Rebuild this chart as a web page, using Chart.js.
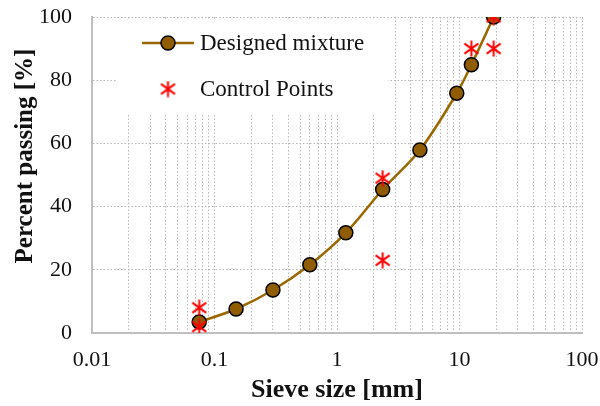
<!DOCTYPE html>
<html>
<head>
<meta charset="utf-8">
<script src="https://cdn.jsdelivr.net/npm/chart.js@4.4.0/dist/chart.umd.min.js"></script>
<style>
  html, body { margin: 0; padding: 0; background: #fff; }
  #wrap { width: 600px; height: 406px; }
</style>
</head>
<body>
<div id="wrap"><canvas id="chart"></canvas></div>
<script>
// sieve sizes [mm] and percent passing of the designed mixture
const sieveSizes = [0.075, 0.15, 0.3, 0.6, 1.18, 2.36, 4.75, 9.5, 12.5, 19];
const passing = [3.5, 7.6, 13.6, 21.6, 31.7, 45.4, 57.9, 75.9, 84.9, 100];

// control points (gradation limits)
const controlSizes = [0.075, 0.075, 2.36, 2.36, 12.5, 19, 19];
const controlPassing = [2, 8, 23, 49, 90, 90, 100];

const xTickLabels = ['0.01', '0.1', '1', '10', '100'];
const yTicks = [0, 20, 40, 60, 80, 100];

const seriesNames = ['Designed mixture', 'Control Points'];

const BROWN = '#9a6700';
const BROWN_FILL = '#8f5d00';
const RED = '#ff0000';
const GRID = '#b8b8b8';
const FONT = "'Liberation Serif', 'Times New Roman', serif";

// asterisk marker
function makeStar(size) {
  const c = document.createElement('canvas');
  c.width = size; c.height = size;
  const g = c.getContext('2d');
  g.strokeStyle = RED;
  g.lineWidth = 2;
  const m = size / 2;
  g.beginPath();
  g.moveTo(m, 0.5); g.lineTo(m, size - 0.5);
  g.moveTo(1.5, size * 0.2); g.lineTo(size - 1.5, size * 0.8);
  g.moveTo(1.5, size * 0.8); g.lineTo(size - 1.5, size * 0.2);
  g.stroke();
  return c;
}
const star = makeStar(17);

// legend box inside the plot + y title
const legendBox = {
  id: 'legendBox',
  beforeDatasetsDraw(chart) {
    const { ctx, chartArea } = chart;
    const left = chartArea.left + 25;
    const top = chartArea.top + 2;
    ctx.save();
    ctx.fillStyle = '#fff';
    ctx.fillRect(left, top, 271, 94);

    const mx = left + 51;
    const y1 = top + 24;
    const y2 = top + 70;
    ctx.strokeStyle = BROWN;
    ctx.lineWidth = 2.5;
    ctx.beginPath();
    ctx.moveTo(mx - 26, y1); ctx.lineTo(mx + 26, y1);
    ctx.stroke();
    ctx.beginPath();
    ctx.arc(mx, y1, 7, 0, Math.PI * 2);
    ctx.fillStyle = BROWN_FILL;
    ctx.fill();
    ctx.lineWidth = 1.5;
    ctx.strokeStyle = '#000';
    ctx.stroke();
    ctx.drawImage(star, mx - 8.5, y2 - 8.5);

    ctx.fillStyle = '#111';
    ctx.font = '23px ' + FONT;
    ctx.textBaseline = 'middle';
    ctx.fillText(seriesNames[0], left + 83, y1 + 1);
    ctx.fillText(seriesNames[1], left + 83, y2 + 1);
    ctx.restore();
  },
  afterDraw(chart) {
    const { ctx } = chart;
    ctx.save();
    ctx.translate(26, 156);
    ctx.rotate(-Math.PI / 2);
    ctx.font = 'bold 25px ' + FONT;
    ctx.fillStyle = '#111';
    ctx.textAlign = 'center';
    ctx.textBaseline = 'middle';
    ctx.fillText('Percent passing [%]', 0, 0);
    ctx.restore();
  }
};

const minorTicks = [];
for (let k = -2; k < 2; k++) {
  for (let m = 1; m < 10; m++) minorTicks.push(m * Math.pow(10, k));
}
minorTicks.push(100);

new Chart(document.getElementById('chart'), {
  type: 'line',
  data: {
    datasets: [
      {
        label: seriesNames[1],
        data: controlSizes.map((s, i) => ({ x: s, y: controlPassing[i] })),
        showLine: false,
        pointStyle: star,
        order: 1
      },
      {
        label: seriesNames[0],
        data: sieveSizes.map((s, i) => ({ x: s, y: passing[i] })),
        borderColor: BROWN,
        borderWidth: 2.5,
        backgroundColor: BROWN_FILL,
        pointBackgroundColor: BROWN_FILL,
        pointBorderColor: '#000',
        pointBorderWidth: 1.5,
        pointRadius: 7,
        tension: 0.35,
        order: 2
      }
    ]
  },
  options: {
    responsive: true,
    maintainAspectRatio: false,
    animation: false,
    layout: { padding: { top: 17, right: 18, left: 0, bottom: 0 } },
    plugins: {
      legend: { display: false },
      tooltip: { enabled: false }
    },
    scales: {
      x: {
        type: 'logarithmic',
        min: 0.01,
        max: 100,
        afterBuildTicks(scale) {
          scale.ticks = minorTicks.map(v => ({ value: v }));
        },
        afterFit(scale) { scale.height = 73; },
        ticks: {
          autoSkip: false,
          maxRotation: 0,
          padding: 0,
          color: '#111',
          font: { family: FONT, size: 22 },
          callback(value) {
            const p = Math.log10(value);
            if (Math.abs(p - Math.round(p)) > 1e-6) return '';
            return xTickLabels[Math.round(p) + 2];
          }
        },
        grid: { color: GRID, lineWidth: 1, drawTicks: true, tickLength: 14, tickColor: 'rgba(0,0,0,0)' },
        border: { color: '#bfbfbf', width: 2, dash: [1.5, 2] },
        title: {
          display: true,
          text: 'Sieve size [mm]',
          color: '#111',
          font: { family: FONT, size: 26, weight: 'bold' },
          padding: { top: 0, bottom: 0 }
        }
      },
      y: {
        min: 0,
        max: 100,
        afterBuildTicks(scale) {
          scale.ticks = yTicks.map(v => ({ value: v }));
        },
        afterFit(scale) { scale.width = 92; },
        ticks: {
          padding: 0,
          color: '#111',
          font: { family: FONT, size: 22 }
        },
        grid: { color: GRID, lineWidth: 1, drawTicks: true, tickLength: 20, tickColor: 'rgba(0,0,0,0)' },
        border: { color: '#bfbfbf', width: 2, dash: [1.5, 2] }
      }
    }
  },
  plugins: [legendBox]
});
</script>
</body>
</html>
